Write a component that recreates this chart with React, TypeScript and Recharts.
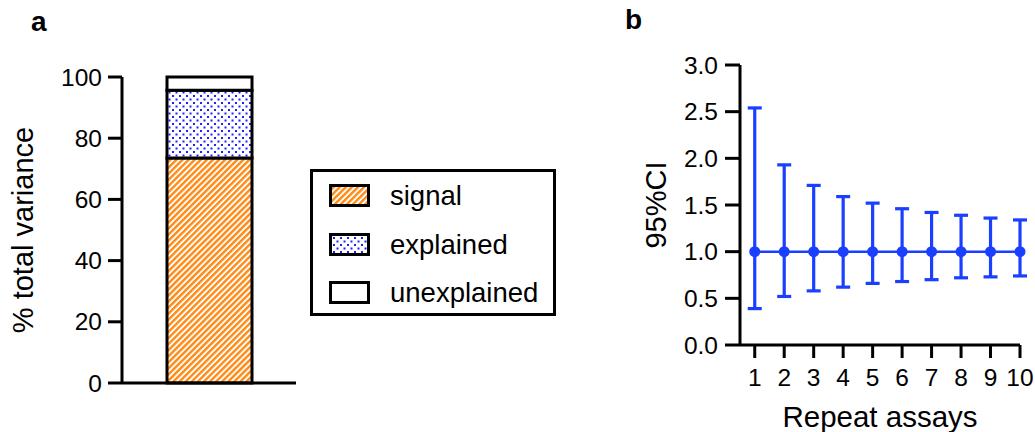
import React from 'react';
import { BarChart, Bar, LineChart, Line, XAxis, YAxis, ErrorBar } from 'recharts';

const FONT = '"Liberation Sans", Arial, sans-serif';
const BLUE = '#1a3fff';
const ORANGE = '#ff8a14';

// panel a
const varianceParts = ['signal', 'explained', 'unexplained'];
const varianceValues = [73.5, 22.2, 4.3];
const varianceTicks = [0, 20, 40, 60, 80, 100];

// panel b
const repeats = [1, 2, 3, 4, 5, 6, 7, 8, 9, 10];
const ciMean = [1, 1, 1, 1, 1, 1, 1, 1, 1, 1];
const ciLower = [0.39, 0.52, 0.58, 0.62, 0.66, 0.68, 0.7, 0.72, 0.73, 0.74];
const ciUpper = [2.54, 1.93, 1.71, 1.59, 1.52, 1.46, 1.42, 1.39, 1.36, 1.34];
const ciTicks = [0, 0.5, 1, 1.5, 2, 2.5, 3];

const fills: Record<string, string> = {
  signal: 'url(#hatch)',
  explained: 'url(#dots)',
  unexplained: '#ffffff',
};

const barData = [
  varianceParts.reduce((row: Record<string, number | string>, k, i) => {
    row[k] = varianceValues[i];
    return row;
  }, { name: 'total' }),
];

const ciData = repeats.map((n, i) => ({
  n,
  mean: ciMean[i],
  err: [ciMean[i] - ciLower[i], ciUpper[i] - ciMean[i]],
}));

const tickStyle = { fontSize: 24.5, fill: '#000', fontFamily: FONT };
const labelStyle = { fontSize: 29, fill: '#000', fontFamily: FONT, textAnchor: 'middle' as const };

const Patterns = () => (
  <svg width={0} height={0} style={{ position: 'absolute' }}>
    <defs>
      <pattern id="hatch" patternUnits="userSpaceOnUse" width={4.3} height={4.3} patternTransform="rotate(45)">
        <rect x={0} y={0} width={4.3} height={4.3} fill="#fff" />
        <rect x={0} y={0} width={2.4} height={4.3} fill={ORANGE} />
      </pattern>
      <pattern id="dots" patternUnits="userSpaceOnUse" width={7} height={7}>
        <rect x={0} y={0} width={7} height={7} fill="#fff" />
        <rect x={0.5} y={0.5} width={2} height={2} fill="#1f1fff" />
        <rect x={4} y={4} width={2} height={2} fill="#1f1fff" />
      </pattern>
    </defs>
  </svg>
);

const LegendBox = () => (
  <div
    style={{
      position: 'absolute',
      left: 310,
      top: 169,
      width: 240,
      height: 141,
      border: '3px solid #000',
      fontFamily: FONT,
      fontSize: 27.5,
    }}
  >
    {varianceParts.map((k, i) => (
      <div key={k} style={{ position: 'absolute', left: 16, top: 12 + i * 48.5, display: 'flex', alignItems: 'center' }}>
        <svg width={41} height={23}>
          <rect x={1.5} y={1.5} width={38} height={20} fill={fills[k]} stroke="#000" strokeWidth={3} />
        </svg>
        <span style={{ marginLeft: 20, lineHeight: '23px' }}>{k}</span>
      </div>
    ))}
  </div>
);

export default function App() {
  return (
    <div style={{ position: 'absolute', left: 0, top: 0, width: 1035, height: 432, background: '#fff', fontFamily: FONT }}>
      <Patterns />
      <div style={{ position: 'absolute', left: 31, top: 6, fontSize: 28, fontWeight: 'bold' }}>a</div>
      <div style={{ position: 'absolute', left: 625, top: 4, fontSize: 28, fontWeight: 'bold' }}>b</div>

      <div style={{ position: 'absolute', left: 0, top: 0 }}>
        <BarChart width={310} height={432} data={barData} margin={{ top: 77, right: 14, bottom: 48, left: 0 }}>
          <XAxis
            dataKey="name"
            tick={false}
            tickLine={false}
            height={1}
            axisLine={{ stroke: '#000', strokeWidth: 3 }}
          />
          <YAxis
            width={122}
            domain={[0, 100]}
            ticks={varianceTicks}
            tick={tickStyle}
            tickSize={14}
            tickMargin={6}
            axisLine={{ stroke: '#000', strokeWidth: 3 }}
            tickLine={{ stroke: '#000', strokeWidth: 3 }}
            label={{ value: '% total variance', angle: -90, position: 'insideLeft', offset: 23, style: labelStyle }}
          />
          {varianceParts.map((k) => (
            <Bar
              key={k}
              dataKey={k}
              stackId="v"
              barSize={85}
              fill={fills[k]}
              stroke="#000"
              strokeWidth={3}
              isAnimationActive={false}
            />
          ))}
        </BarChart>
      </div>

      <LegendBox />

      <div style={{ position: 'absolute', left: 620, top: 0 }}>
        <LineChart width={415} height={432} data={ciData} margin={{ top: 65, right: 15, bottom: 0, left: 0 }}>
          <XAxis
            dataKey="n"
            type="number"
            domain={[0.5, 10]}
            ticks={repeats}
            interval={0}
            height={87}
            tick={tickStyle}
            tickSize={13}
            tickMargin={11}
            axisLine={{ stroke: '#000', strokeWidth: 3 }}
            tickLine={{ stroke: '#000', strokeWidth: 3 }}
            label={{ value: 'Repeat assays', position: 'insideBottom', offset: 5, style: { ...labelStyle, fontSize: 29.5 } }}
          />
          <YAxis
            width={120}
            domain={[0, 3]}
            ticks={ciTicks}
            tickFormatter={(v: number) => v.toFixed(1)}
            tick={tickStyle}
            tickSize={15}
            tickMargin={7}
            axisLine={{ stroke: '#000', strokeWidth: 3 }}
            tickLine={{ stroke: '#000', strokeWidth: 3 }}
            label={{ value: '95%CI', angle: -90, position: 'insideLeft', offset: 36, style: labelStyle }}
          />
          <Line
            dataKey="mean"
            stroke={BLUE}
            strokeWidth={2.5}
            dot={{ r: 5.5, fill: BLUE, stroke: BLUE, strokeWidth: 0 }}
            isAnimationActive={false}
          >
            <ErrorBar dataKey="err" direction="y" width={7} stroke={BLUE} strokeWidth={3.2} isAnimationActive={false} />
          </Line>
        </LineChart>
      </div>
    </div>
  );
}
